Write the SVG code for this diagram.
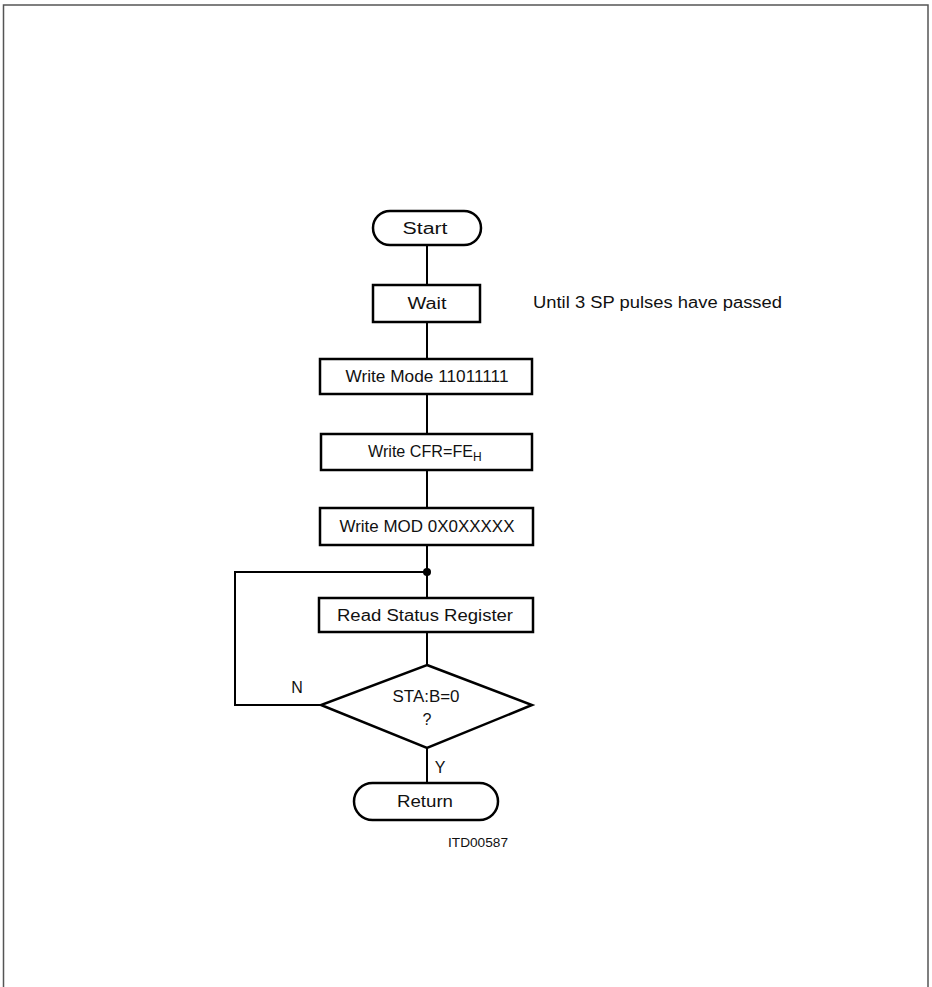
<svg xmlns="http://www.w3.org/2000/svg" width="932" height="987" viewBox="0 0 932 987">
<style>
.box{fill:#fff;stroke:#000;stroke-width:2.5}
.ln{fill:none;stroke:#000;stroke-width:2}
text{font-family:"Liberation Sans","DejaVu Sans",sans-serif;font-size:16px;fill:#111}
.c{text-anchor:middle}
</style>
<rect x="0" y="0" width="932" height="987" fill="#fff"/>
<path d="M3.5,987 V5 H928 V987" fill="none" stroke="#555" stroke-width="1.5"/>
<g id="connectors">
<line class="ln" x1="427" y1="245" x2="427" y2="285"/>
<line class="ln" x1="427" y1="322" x2="427" y2="359"/>
<line class="ln" x1="427" y1="394" x2="427" y2="434"/>
<line class="ln" x1="427" y1="470" x2="427" y2="508"/>
<line class="ln" x1="427" y1="545" x2="427" y2="598"/>
<line class="ln" x1="427" y1="632" x2="427" y2="665"/>
<line class="ln" x1="427" y1="748" x2="427" y2="783"/>
<polyline class="ln" points="321,705 235,705 235,572 427,572"/>
<circle cx="427" cy="572" r="4" fill="#000"/>
<text x="297" y="693" class="c">N</text>
<text x="440" y="773" class="c">Y</text>
</g>
<g id="start">
<rect class="box" x="373" y="211" width="108" height="34" rx="17"/>
<text x="425" y="234" class="c" textLength="45" lengthAdjust="spacingAndGlyphs">Start</text>
</g>
<g id="wait">
<rect class="box" x="373" y="285" width="107" height="37"/>
<text x="427" y="309" class="c" textLength="39" lengthAdjust="spacingAndGlyphs">Wait</text>
</g>
<g id="wait-note">
<text x="533" y="308" textLength="249" lengthAdjust="spacingAndGlyphs">Until 3 SP pulses have passed</text>
</g>
<g id="write-mode">
<rect class="box" x="320" y="359" width="212" height="35"/>
<text x="427" y="382" class="c" textLength="163" lengthAdjust="spacingAndGlyphs">Write Mode 11011111</text>
</g>
<g id="write-cfr">
<rect class="box" x="321" y="434" width="211" height="36"/>
<text x="368" y="457"><tspan textLength="105" lengthAdjust="spacingAndGlyphs">Write CFR=FE</tspan><tspan font-size="12" dy="4">H</tspan></text>
</g>
<g id="write-mod">
<rect class="box" x="320" y="508" width="213" height="37"/>
<text x="427" y="532" class="c" textLength="175" lengthAdjust="spacingAndGlyphs">Write MOD 0X0XXXXX</text>
</g>
<g id="read-status">
<rect class="box" x="319" y="598" width="214" height="34"/>
<text x="425" y="621" class="c" textLength="176" lengthAdjust="spacingAndGlyphs">Read Status Register</text>
</g>
<g id="decision">
<polygon class="box" points="427,665 532,705 427,748 321,705"/>
<text x="426" y="702" class="c" textLength="67" lengthAdjust="spacingAndGlyphs">STA:B=0</text>
<text x="427" y="725" class="c">?</text>
</g>
<g id="return">
<rect class="box" x="354" y="783" width="144" height="37" rx="18.5"/>
<text x="425" y="807" class="c" textLength="56" lengthAdjust="spacingAndGlyphs">Return</text>
</g>
<text x="478" y="847" class="c" textLength="60" lengthAdjust="spacingAndGlyphs" style="font-size:12px">ITD00587</text>
</svg>
